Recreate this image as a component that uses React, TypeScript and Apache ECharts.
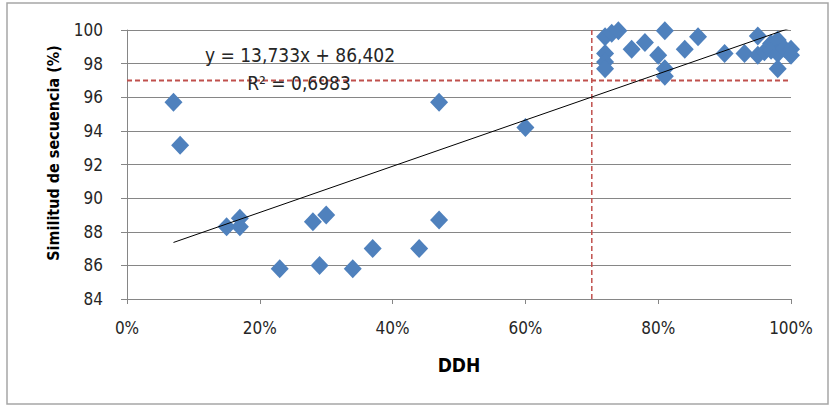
import React, { useEffect, useRef } from "react";
import * as echarts from "echarts";

const xTickLabels = ["0%", "20%", "40%", "60%", "80%", "100%"];
const ddh = [
  0.07, 0.08, 0.15, 0.17, 0.17, 0.23, 0.28, 0.29, 0.30, 0.34, 0.37, 0.44, 0.47, 0.47, 0.60,
  0.72, 0.72, 0.72, 0.72, 0.73, 0.74, 0.76, 0.78, 0.80, 0.81, 0.81, 0.81, 0.84, 0.86,
  0.90, 0.93, 0.95, 0.95, 0.96, 0.97, 0.97, 0.98, 0.98, 0.98, 0.99, 1.00, 1.00,
];
const similitud = [
  95.7, 93.15, 88.3, 88.8, 88.3, 85.8, 88.6, 86.0, 89.0, 85.8, 87.0, 87.0, 95.7, 88.7, 94.2,
  99.6, 98.6, 98.1, 97.7, 99.8, 99.95, 98.85, 99.25, 98.5, 99.95, 97.7, 97.25, 98.85, 99.6,
  98.6, 98.6, 99.65, 98.5, 98.7, 99.2, 98.8, 99.4, 98.6, 97.7, 98.9, 98.85, 98.5,
];
const slope = 13.733;
const intercept = 86.402;
const r2Text = "R² = 0,6983";
const eqText = "y = 13,733x + 86,402";
const xTitle = "DDH";
const yTitle = "Similitud de secuencia (%)";
const thresholdY = 97;
const thresholdX = 0.7;

export default function App() {
  const ref = useRef<HTMLDivElement>(null);
  useEffect(() => {
    if (!ref.current) return;
    const chart = echarts.init(ref.current, null, { renderer: "svg" });
    const pts = ddh.map((x, i) => [x, similitud[i]]);
    const xMin = Math.min(...ddh);
    const xMax = Math.max(...ddh);
    const font = "'DejaVu Sans Condensed', 'Open Sans', sans-serif";
    chart.setOption({
      animation: false,
      backgroundColor: "#fff",
      grid: { left: 127, right: 39, top: 30, bottom: 107 },
      xAxis: {
        type: "value",
        min: 0,
        max: 1,
        interval: 0.2,
        axisLine: { show: true, lineStyle: { color: "#868686" } },
        axisTick: { show: true, length: 5, lineStyle: { color: "#868686" } },
        splitLine: { show: false },
        axisLabel: {
          fontFamily: font,
          fontSize: 17,
          color: "#262626",
          margin: 20,
          formatter: (v: number) => xTickLabels[Math.round(v * 5)] ?? "",
        },
      },
      yAxis: {
        type: "value",
        min: 84,
        max: 100,
        interval: 2,
        axisLine: { show: true, lineStyle: { color: "#868686" } },
        axisTick: { show: true, length: 6, lineStyle: { color: "#868686" } },
        splitLine: { show: true, lineStyle: { color: "#868686", width: 1 } },
        axisLabel: { fontFamily: font, fontSize: 17, color: "#262626", margin: 24 },
      },
      series: [
        {
          type: "line",
          data: [[0, thresholdY], [1, thresholdY]],
          symbol: "none",
          lineStyle: { color: "#C0504D", type: [5, 3], width: 2 },
          silent: true,
          z: 1,
        },
        {
          type: "line",
          data: [[thresholdX, 84], [thresholdX, 100]],
          symbol: "none",
          lineStyle: { color: "#C0504D", type: [5, 3], width: 1.5 },
          silent: true,
          z: 1,
        },
        {
          type: "scatter",
          data: pts,
          symbol: "diamond",
          symbolSize: [18, 19],
          itemStyle: { color: "#4F81BD", opacity: 1 },
          z: 3,
        },
        {
          type: "line",
          data: [[xMin, slope * xMin + intercept], [xMax, slope * xMax + intercept]],
          symbol: "none",
          lineStyle: { color: "#000", width: 1 },
          silent: true,
          z: 4,
        },
      ],
      graphic: [
        {
          type: "rect",
          shape: { x: 7, y: 3, width: 821, height: 401 },
          style: { fill: "none", stroke: "#A6A6A6", lineWidth: 1.5 },
          silent: true,
        },
        {
          type: "text",
          x: 300,
          y: 55,
          style: { text: eqText, fontFamily: font, fontSize: 19, fill: "#262626", align: "center", verticalAlign: "middle" },
          z: 10,
        },
        {
          type: "text",
          x: 299,
          y: 83,
          style: { text: r2Text, fontFamily: font, fontSize: 19, fill: "#262626", align: "center", verticalAlign: "middle" },
          z: 10,
        },
        {
          type: "text",
          x: 459,
          y: 365,
          style: { text: xTitle, fontFamily: font, fontWeight: "bold", fontSize: 19, fill: "#000", align: "center", verticalAlign: "middle" },
          z: 10,
        },
        {
          type: "text",
          x: 53,
          y: 153,
          rotation: Math.PI / 2,
          style: { text: yTitle, fontFamily: font, fontWeight: "bold", fontSize: 16, fill: "#000", align: "center", verticalAlign: "middle" },
          z: 10,
        },
      ],
    });
    return () => chart.dispose();
  }, []);
  return (
    <div
      ref={ref}
      style={{ position: "fixed", left: 0, top: 0, width: 830, height: 406 }}
    />
  );
}
